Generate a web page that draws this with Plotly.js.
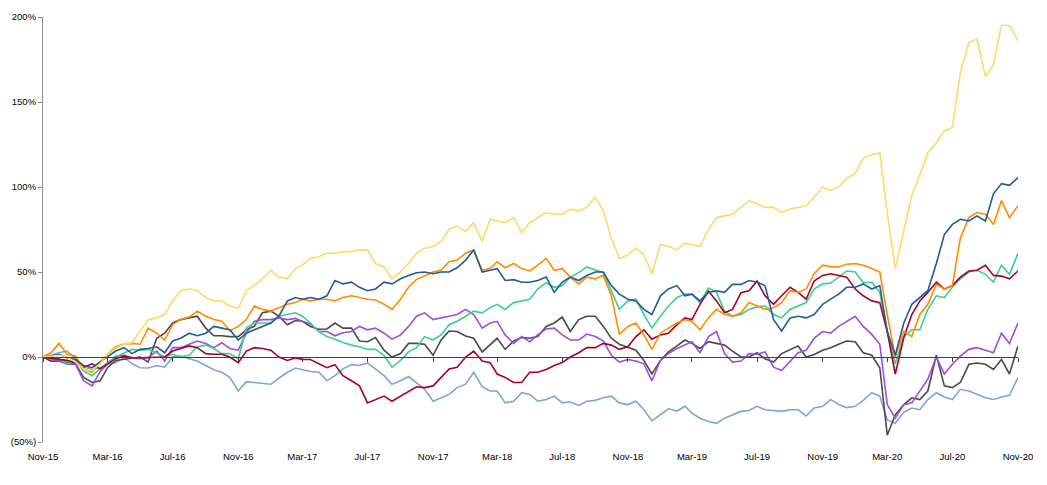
<!DOCTYPE html>
<html>
<head>
<meta charset="utf-8">
<script src="https://cdn.plot.ly/plotly-3.0.1.min.js"></script>
<style>html,body{margin:0;padding:0;background:#fff;}#chart{width:1047px;height:485px;}</style>
</head>
<body>
<div id="chart"></div>
<script>
// Semi-monthly observation dates (Nov-15 .. Nov-20)
const dates = [
"2015-11-01","2015-11-16","2015-12-01","2015-12-16",
"2016-01-01","2016-01-16","2016-02-01","2016-02-16","2016-03-01","2016-03-16","2016-04-01","2016-04-16","2016-05-01","2016-05-16","2016-06-01","2016-06-16","2016-07-01","2016-07-16","2016-08-01","2016-08-16","2016-09-01","2016-09-16","2016-10-01","2016-10-16","2016-11-01","2016-11-16","2016-12-01","2016-12-16",
"2017-01-01","2017-01-16","2017-02-01","2017-02-16","2017-03-01","2017-03-16","2017-04-01","2017-04-16","2017-05-01","2017-05-16","2017-06-01","2017-06-16","2017-07-01","2017-07-16","2017-08-01","2017-08-16","2017-09-01","2017-09-16","2017-10-01","2017-10-16","2017-11-01","2017-11-16","2017-12-01","2017-12-16",
"2018-01-01","2018-01-16","2018-02-01","2018-02-16","2018-03-01","2018-03-16","2018-04-01","2018-04-16","2018-05-01","2018-05-16","2018-06-01","2018-06-16","2018-07-01","2018-07-16","2018-08-01","2018-08-16","2018-09-01","2018-09-16","2018-10-01","2018-10-16","2018-11-01","2018-11-16","2018-12-01","2018-12-16",
"2019-01-01","2019-01-16","2019-02-01","2019-02-16","2019-03-01","2019-03-16","2019-04-01","2019-04-16","2019-05-01","2019-05-16","2019-06-01","2019-06-16","2019-07-01","2019-07-16","2019-08-01","2019-08-16","2019-09-01","2019-09-16","2019-10-01","2019-10-16","2019-11-01","2019-11-16","2019-12-01","2019-12-16",
"2020-01-01","2020-01-16","2020-02-01","2020-02-16","2020-03-01","2020-03-16","2020-04-01","2020-04-16","2020-05-01","2020-05-16","2020-06-01","2020-06-16","2020-07-01","2020-07-16","2020-08-01","2020-08-16","2020-09-01","2020-09-16","2020-10-01","2020-10-16","2020-11-01"
];

// Tick positions and labels
const tickDates = ["2015-11-01","2016-03-01","2016-07-01","2016-11-01","2017-03-01","2017-07-01","2017-11-01","2018-03-01","2018-07-01","2018-11-01","2019-03-01","2019-07-01","2019-11-01","2020-03-01","2020-07-01","2020-11-01"];
const tickLabels = ["Nov-15","Mar-16","Jul-16","Nov-16","Mar-17","Jul-17","Nov-17","Mar-18","Jul-18","Nov-18","Mar-19","Jul-19","Nov-19","Mar-20","Jul-20","Nov-20"];
const yTickVals = [-50, 0, 50, 100, 150, 200];
const yTickText = ["(50%)", "0%", "50%", "100%", "150%", "200%"];

// Cumulative returns (%)
const seriesYellow = [
0,0.6,1,0,-3,-7,-8,-4,1.5,5,
7.8,8.4,15,22,23,25,33,39,40,39,
35,33,33,30,28.6,39,42,46,51,47,
46,52,54,58,59,61,61,62,62,63,
63,55,53,46,50,55,61,64,65,68,
75,77,74,79,68,81,80,79,82,73,
79,82,85,84,84,87,86,88,94,86,
70,58,60,64,60,49,66,65,63,67,
66,65,75,82,83,84,88,92,90,88,
88,85,87,88,89,94,100,98,100,105,
108,117,119,120,85,52,74,95,107,120,
126,133,135,167,185,187,165,172,195,195,
186];
const seriesBlue = [
0,0.5,1.6,-0.5,-1.4,-5,-6.3,-3,0.6,3.5,
5.5,2,4.5,5,6,2.5,9.4,11,14,12.5,
14,18,17,16,10,14,16,18,20,24,
33,35,34,35,34,36,45,43,44,41,
39,40,44,43,46,48,49.6,50,49,50,
50,52.5,57,63,50,51,52,45,45.5,44,
44,45,47,38,44,47,45,48,50,50,
42,37,34,33,28,25,36,40,42,36,
37,33,38,39,38,42.7,42.7,45,44,42,
22,15.3,23,24,23,25,31,34,37,41,
41,43,40,42,15,1,20,31,35,39,
55,72,78,81,80,83,80,96,102,101,
105.5];
const seriesOrange = [
0,2.5,8,1.6,0.6,-7,-9,-3,1.6,6,
7.8,8,7.5,17,14,10,19,22,23.5,27,
24,22,21,15.5,18,22,30,28,27,29,
31,32,34,33,34,34,33,35,36,35,
34,33.5,31,28,34,41,45.7,47.6,50,51,
56,57,61,63,51,52,56,52.5,55,52,
50.6,54,58,51,52,47,43,47,46,48,
36,13.3,18,20,13,4.5,14,17,20,22,
21,16,23,28,25,24,26,32,30,28,
29,32,39,38,40,49,54,53,53,54.5,
55,54,52,50,25,0,15,12,25,31,
42.7,40,42,70,82,85,84,78,92,82,
89];
const seriesGreen = [
0,-0.5,-1,-4,-2,-8.2,-11,-7,-3.3,0,
2.5,4.5,4,4.5,2.5,0,1.6,0,1,6,
7,5,2,2,-1,17,20,20,20,24,
25,26,24,20,15,12,10.5,8.5,7,6,
4.5,4.5,1,-6,-2,3,5.5,12,10,13,
19,21,24,27,26,29,31,28,32,33,
34,40,43.7,41,42,47,49.6,53,51,49.6,
39,28,33,34,25,17,24,30,35,37,
37,32,40.5,38,27,24,25,28,29.5,30,
25,23,28,30,32,40,43,43.5,47,50.6,
50,43.7,44,38,15,-4,12,16,16,28,
36,35,41,46,50,51,48.6,44,54,48.6,
61];
const seriesRed = [
0,-0.5,-1.4,-2,-3.3,-6,-4,-7,-4.3,-1,
0.6,-0.4,-0.4,-0.4,-0.4,0,3.5,5,6.5,5.5,
2,1.6,1.6,0,-3.3,3.5,5.5,5,4,0,
-2,-0.5,-1.4,-1.5,-4,-6.3,-4.5,-11,-14,-17,
-27,-25,-23,-26,-23,-20,-17.5,-18,-17,-12,
-7,-6,0,3.5,-2.4,-3.3,-10,-12,-15,-15,
-9,-9,-7.3,-5,-3.3,0,2.5,5.5,5.5,8,
7,4.5,6,12,16,10.4,13,14,19,23,
22,31,38.8,33,26,28,37.8,39,44.7,36,
31,36,41,38,34,44.7,48,49,48,47,
40,36,33,32,15,-10,11.5,25,33,38,
44,40,42,47,50.6,51,54,48,47.6,46,
50.6];
const seriesPurple = [
0,-1,-2.4,-4.3,-4.3,-14,-17,-8.6,-4.3,0.5,
1,-0.5,-1,-0.5,3.5,-2.4,5.5,5.5,7.5,9.4,
8,5.5,8.4,5,4,14,21,22,22,23,
22,22.7,21,19.5,15,15,12.5,14.3,15,18,
16,17,14,10.5,13,18,24,26,22,23,
24,25,28,25,17,20,21,13,8,12,
9,13,16.5,17,13,10,10,13.5,12,9.4,
1,-3,-1.5,-2.4,-4,-14,-2,2,5,7,
9,2.5,12,15,2,-3,-2.4,2,1.6,3,
-6,-8,-2.4,2.5,4,11,15,14,18,21,
24,18,13.3,7.5,-28,-36,-28,-27,-20,-13,
0,-10,-4.3,0.5,4.5,5.5,4,2.5,14,8,
20];
const seriesGray = [
0,-2.4,-2.4,-3,-4,-12,-15,-14,-6.3,-2,
-1.4,-1,0,-3,11,14,20,22,23,24,
17,12.5,12.5,12,12,16,18,26,27,24,
19,21.5,21,18,16.3,16.5,20,17,17,9.4,
9,11.4,4,0,2,8,8,7.5,1,10,
15.3,15,12.4,11,3,7.5,11,4.5,9.5,11.4,
11,12,18,20,23.5,15,22,24,24,18,
11,7.5,5.5,4,-2,-10,-2,3,6.5,10,
8,5,9,8,7,3.5,0,0,2.5,-1,
-3,2,4.5,6.5,0,1.5,4,5.5,7.5,9.4,
9,2.5,1,-6.3,-46,-34,-28,-24,-25,-20,
1,-17,-18,-15,-4.3,-3.5,-4.3,-7.3,-1.4,-10,
6.5];
const seriesLightBlue = [
0,1,2.5,3.5,-1,-6,-7.3,-6.3,-4,-3.3,
-0.4,-4,-6.3,-6.5,-5,-6,0,0.6,-1,-2.4,
-5,-7.5,-9,-12,-20,-14.5,-15,-15.5,-16,-12.5,
-9,-6.5,-7.5,-8.5,-9,-14,-11,-7,-4.5,-5,
-3.5,-7,-11,-16,-14,-11.5,-15.5,-19,-26,-24,
-22,-18,-16,-9,-17.5,-20,-20,-27,-26,-21,
-22,-26,-25,-23,-27,-26.5,-28.5,-26,-25.5,-24,
-23,-27,-28,-26,-31,-37.6,-34,-30.5,-31.8,-29,
-33,-36,-38,-39,-36,-34,-32,-31.5,-29,-31,
-31.5,-32,-31,-31,-34.7,-30,-29,-25,-28,-29.8,
-29,-25.5,-21,-23,-37,-39,-32.5,-30,-31,-25,
-21,-23.5,-25,-19,-20,-22,-24,-25,-23.5,-22.5,
-12];

const seriesList = [
  {y: seriesLightBlue, color: '#7EA6D2'},
  {y: seriesGray, color: '#4A4A4A'},
  {y: seriesPurple, color: '#9D4EDD'},
  {y: seriesGreen, color: '#3CCF91'},
  {y: seriesRed, color: '#A8002B'},
  {y: seriesOrange, color: '#FF8C00'},
  {y: seriesBlue, color: '#1F5C99'},
  {y: seriesYellow, color: '#FFD966'}
];

const traces = seriesList.map(s => ({
  type: 'scatter', mode: 'lines', x: dates, y: s.y,
  line: {color: s.color, width: 1.6}, hoverinfo: 'skip', showlegend: false
}));

// helper trace carrying the zero-line category axis
traces.unshift({type: 'scatter', mode: 'lines', x: [dates[0], dates[dates.length-1]], y: [null, null],
  xaxis: 'x2', yaxis: 'y', showlegend: false, hoverinfo: 'skip'});

const xRange = [dates[0], dates[dates.length-1]];
const font = {family: 'Liberation Sans, Arial, sans-serif', size: 9.5, color: '#000'};

const layout = {
  width: 1047, height: 485,
  margin: {l: 43, r: 29, t: 17, b: 43},
  paper_bgcolor: '#fff', plot_bgcolor: '#fff',
  showlegend: false,
  font: font,
  xaxis: {
    type: 'date', range: xRange, tickmode: 'array', tickvals: tickDates, ticktext: tickLabels,
    showgrid: false, zeroline: false, showline: false,
    ticks: 'outside', ticklen: 6, tickcolor: 'rgba(0,0,0,0)', tickfont: font
  },
  xaxis2: {
    type: 'date', range: xRange, overlaying: 'x', anchor: 'free', position: 0.2,
    tickmode: 'array', tickvals: tickDates, showticklabels: false,
    showgrid: false, zeroline: false, showline: true, linecolor: '#404040', linewidth: 1.3,
    ticks: 'outside', ticklen: 4, tickcolor: '#404040', tickwidth: 1
  },
  yaxis: {
    range: [-50, 200], tickmode: 'array', tickvals: yTickVals, ticktext: yTickText,
    showgrid: false, zeroline: false, showline: true, linecolor: '#8c8c8c', linewidth: 1,
    ticks: 'outside', ticklen: 4, tickcolor: '#8c8c8c', tickfont: font
  }
};

Plotly.newPlot('chart', traces, layout, {displayModeBar: false, staticPlot: true});
</script>
</body>
</html>
